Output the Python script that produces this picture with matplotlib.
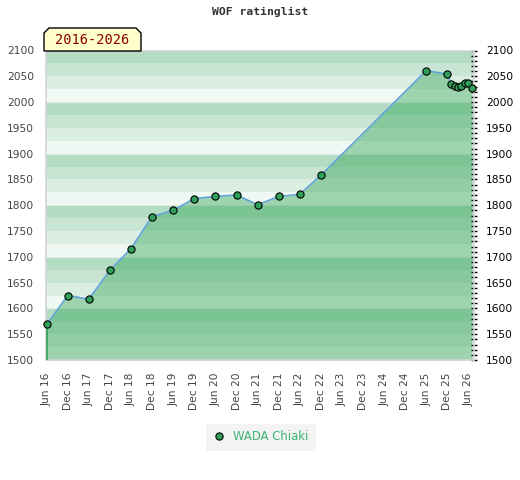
import matplotlib

matplotlib.use("Agg")
import matplotlib.dates as mdates
import matplotlib.pyplot as plt
import numpy as np
from matplotlib.lines import Line2D
from matplotlib.patches import Polygon
from matplotlib.ticker import MultipleLocator

# rating history
dates = [
    "2016-06-01", "2016-12-01", "2017-06-01", "2017-12-01", "2018-06-01",
    "2018-12-01", "2019-06-01", "2019-12-01", "2020-06-01", "2020-12-01",
    "2021-06-01", "2021-12-01", "2022-06-01", "2022-12-01", "2025-06-01",
    "2025-12-01", "2026-01-01", "2026-02-01", "2026-03-01", "2026-04-01",
    "2026-05-01", "2026-06-01", "2026-07-01",
]
ratings = [
    1569, 1625, 1618, 1674, 1716,
    1778, 1790, 1813, 1817, 1820,
    1801, 1817, 1821, 1858, 2061,
    2054, 2035, 2031, 2030, 2032,
    2037, 2037, 2028,
]
player = "WADA Chiaki"
title = "WOF ratinglist"
period = "2016-2026"

band_colors = ["#eff8f2", "#dbeee2", "#c8e5d3", "#b3dcc3"]  # bottom -> top of each 100 block
fill_color = "#35a659"
line_color = "#62a3d8"
marker_color = "#2f9f5a"
label_color = "#444444"

x = np.array(dates, dtype="datetime64[D]").astype("O")
y = np.array(ratings)

fig = plt.figure(figsize=(5.2, 4.8), dpi=100)
ax = fig.add_axes([46 / 520, 1 - 360 / 480, 428 / 520, 309.5 / 480])

ymin, ymax = 1500, 2100
for i, lo in enumerate(range(ymin, ymax, 25)):
    ax.axhspan(lo, lo + 25, color=band_colors[i % 4], lw=0, zorder=0)
for v in range(ymin + 50, ymax, 50):
    ax.axhline(v, color="#e2ece5", lw=0.8, zorder=0.5)

ax.fill_between(x, y, ymin, color=fill_color, alpha=0.44, lw=0, zorder=1)
ax.plot([x[0], x[0]], [ymin, y[0]], color="#2f9f5a", lw=1.2, zorder=2.6)
ax.plot(x, y, color=line_color, lw=1.2, zorder=2.7)
ax.plot(x, y, "o", ms=5.2, mfc=marker_color, mec="black", mew=0.8, zorder=3, clip_on=False)

ax.set_ylim(ymin, ymax)
ax.set_xlim(np.datetime64("2016-05-26").astype("O"), np.datetime64("2026-07-19").astype("O"))

ticks = []
for yr in range(2016, 2027):
    ticks.append(np.datetime64(f"{yr}-06-01").astype("O"))
    if yr < 2026:
        ticks.append(np.datetime64(f"{yr}-12-01").astype("O"))
ax.set_xticks(ticks)
ax.xaxis.set_major_formatter(mdates.DateFormatter("%b %y"))
ax.tick_params(axis="x", length=0, pad=9, labelsize=7.7, labelcolor=label_color, labelrotation=90)

ax.yaxis.set_major_locator(MultipleLocator(50))
ax.yaxis.set_minor_locator(MultipleLocator(10))
ax.tick_params(axis="y", which="both", left=False, right=True, labelleft=True, labelright=True,
               direction="inout", color="black", width=1, labelsize=7.7, labelcolor=label_color)
ax.tick_params(axis="y", which="major", length=5, pad=6)
ax.tick_params(axis="y", which="minor", length=4)
for t in ax.yaxis.get_major_ticks():
    t.label2.set_color("black")

for side in ["left", "right", "top", "bottom"]:
    ax.spines[side].set_color("#d4d4d4")
    ax.spines[side].set_linewidth(1.2)

fig.text(0.5, 1 - 12 / 480, title, ha="center", va="center", family="DejaVu Sans Mono",
         fontweight="bold", fontsize=8.2, color="#333333")

# period badge with chamfered top corners
bx0, bx1, by0, by1, c = 44, 141, 480 - 51, 480 - 28, 5
pts = [(bx0, by0), (bx0, by1 - c), (bx0 + c, by1), (bx1 - c, by1), (bx1, by1 - c), (bx1, by0)]
badge = Polygon([(px / 520, py / 480) for px, py in pts], closed=True, transform=fig.transFigure,
                facecolor="#ffffcc", edgecolor="black", lw=1, zorder=5)
fig.patches.append(badge)
fig.text((bx0 + bx1) / 2 / 520, (by0 + by1) / 2 / 480 - 0.002, period, ha="center", va="center",
         family="DejaVu Sans Mono", fontsize=9.8, color="#8b0000", zorder=6)

handle = Line2D([], [], ls="none", marker="o", ms=5.2, mfc=marker_color, mec="black", mew=0.8)
leg = fig.legend([handle], [player], loc="center", bbox_to_anchor=(261 / 520, 1 - 437 / 480),
                 frameon=True, fancybox=False, fontsize=8.4, handlelength=1, handletextpad=0.7,
                 borderpad=0.6)
leg.get_frame().set_facecolor("#f0f0f0")
leg.get_frame().set_edgecolor("none")
for txt in leg.get_texts():
    txt.set_color("#3cb371")

fig.savefig("out.png", dpi=100)
